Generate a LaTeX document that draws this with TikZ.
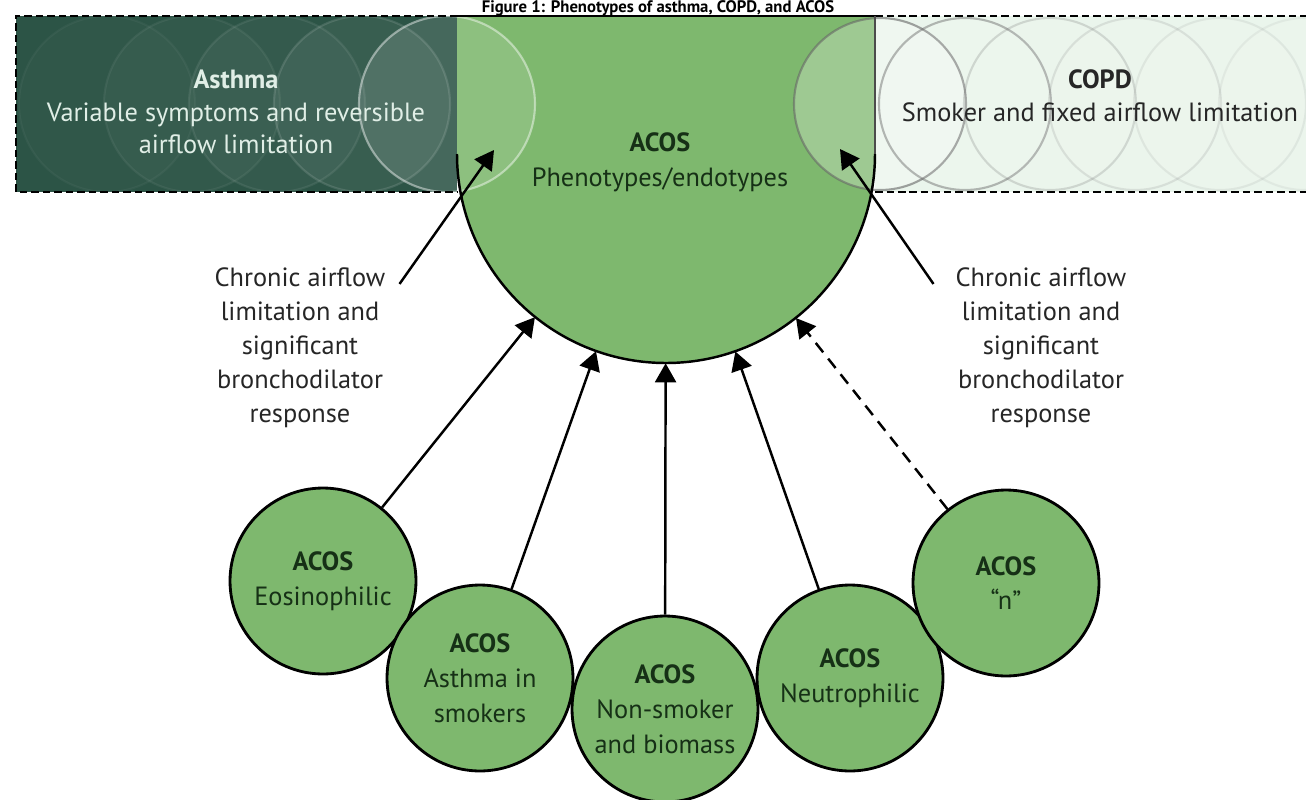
\documentclass[tikz,border=0pt]{standalone}
\usepackage{fontspec}
\setmainfont{PT Sans}
\usetikzlibrary{shapes,arrows.meta,positioning}
\usepackage{xcolor}
\definecolor{asthmaband}{RGB}{44,84,70}
\definecolor{acosgreen}{RGB}{126,184,110}
\definecolor{copdband}{RGB}{234,245,236}
\definecolor{acostext}{RGB}{22,48,22}
\definecolor{asthmatext}{RGB}{224,238,230}

\begin{document}
\begin{tikzpicture}[x=0.02cm, y=0.02cm]
      \tikzstyle{phenotype} = [circle, draw, line width=1.6pt, fill=acosgreen, minimum size=3.72cm, inner sep=0pt, align=center, text=acostext, font=\fontsize{15}{19.8}\selectfont]
      \tikzstyle{arr} = [-{Triangle[length=0.38cm, width=0.42cm]}, line width=1.4pt]
      \tikzstyle{border} = [line width=1.6pt, dash pattern=on 0.15cm off 0.08cm]
      \tikzstyle{note} = [align=center, text=black!85, font=\fontsize{15}{19.3}\selectfont]

      \useasboundingbox (0,0) rectangle (1306,-799);

      % bands and the ACOS shape
      \fill[asthmaband] (16,-16) rectangle (457,-192);
      \fill[copdband] (875,-16) rectangle (1306,-192);
      \fill[acosgreen] (457,-16) -- (875,-16) -- (875,-154) arc[start angle=0, end angle=-180, radius=209] -- cycle;

      % faint circles
      \foreach \cx/\fo/\so in {107/0.02/0.04, 192/0.03/0.06, 277/0.04/0.08, 362/0.06/0.12, 447/0.12/0.45}
        \filldraw[fill=white, draw=white, fill opacity=\fo, draw opacity=\so, line width=1.2pt] (\cx,-104) circle[radius=88];
      \foreach \cx/\fo/\so in {880/0.25/0.6, 965/0.1/0.45, 1050/0.05/0.22, 1135/0.05/0.15, 1220/0.05/0.1, 1305/0.05/0.08}
        \filldraw[fill=white, draw=black!60, fill opacity=\fo, draw opacity=\so, line width=1.2pt] (\cx,-104) circle[radius=86];

      \draw[border] (457,-16) -- (16,-16) -- (16,-192) -- (457,-192);
      \draw[border] (875,-16) -- (1306,-16);
      \draw[border] (875,-192) -- (1306,-192);
      \draw[line width=1.6pt] (457,-16) -- (875,-16);
      \draw[line width=1pt, black!70] (875,-16) -- (875,-154);
      \draw[line width=1.4pt] (875,-154) arc[start angle=0, end angle=-180, radius=209];
      \node[circle, minimum size=8.36cm, inner sep=0pt] (acos) at (666,-154) {};

      \node[anchor=base, font=\bfseries\fontsize{9.5}{11}\selectfont] (title) at (658,-12) {Figure 1: Phenotypes of asthma, COPD, and ACOS};
      \node[align=center, text=asthmatext, font=\fontsize{15}{18.7}\selectfont] (asthma) at (236,-112) {\textbf{Asthma}\\Variable symptoms and reversible\\airflow limitation};
      \node[align=center, text=black!85, font=\fontsize{15}{18.7}\selectfont] (copd) at (1100,-96) {\textbf{COPD}\\Smoker and fixed airflow limitation};
      \node[align=center, text=acostext, font=\fontsize{15}{19.8}\selectfont] (acoslbl) at (660,-162) {\textbf{ACOS}\\Phenotypes/endotypes};

      \node[phenotype] (eos) at (323,-581) {\textbf{ACOS}\\Eosinophilic};
      \node[phenotype] (smokers) at (480,-678) {\textbf{ACOS}\\Asthma in\\smokers};
      \node[phenotype] (biomass) at (665,-709) {\textbf{ACOS}\\Non-smoker\\and biomass};
      \node[phenotype] (neutro) at (850,-678) {\textbf{ACOS}\\Neutrophilic};
      \node[phenotype] (acosn) at (1006,-583) {\textbf{ACOS}\\``n''};

      \draw[arr] (eos) -- (acos);
      \draw[arr] (smokers) -- (acos);
      \draw[arr] (biomass) -- (acos);
      \draw[arr] (neutro) -- (acos);
      \draw[arr, dash pattern=on 0.24cm off 0.16cm] (acosn) -- (acos);

      \node[note] (leftlbl) at (300,-348) {Chronic airflow\\limitation and\\significant\\bronchodilator\\response};
      \node[note] (rightlbl) at (1041,-348) {Chronic airflow\\limitation and\\significant\\bronchodilator\\response};
      \coordinate (lefttip) at (494,-150);
      \coordinate (righttip) at (840,-149);
      \draw[arr] ([shift={(8,-22)}]leftlbl.north east) -- (lefttip);
      \draw[arr] ([shift={(-16,-22)}]rightlbl.north west) -- (righttip);
    \end{tikzpicture}
\end{document}
